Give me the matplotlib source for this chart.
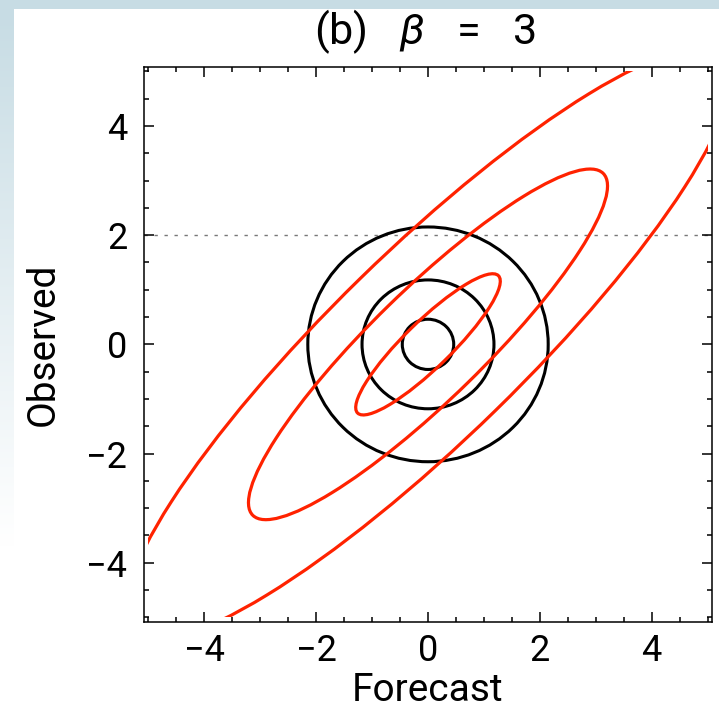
import numpy as np
import matplotlib.pyplot as plt
from matplotlib.patches import Circle, Ellipse, Rectangle
from matplotlib.ticker import MultipleLocator

# contour levels of the reference (uncorrelated) density: circle radii
circle_radii = [0.46, 1.18, 2.15]
# contour levels of the correlated density: ellipse semi-axes, tilted 45 deg
ellipse_semi_major = [1.78, 4.43, 7.47]
ellipse_semi_minor = [0.42, 1.00, 1.71]
ellipse_angle = 45.0
threshold = 2.0
data_box = [-5.0, 5.0]
axis_range = [-5.08, 5.08]
major_ticks = [-4, -2, 0, 2, 4]

plt.rcParams['font.family'] = ['Roboto', 'DejaVu Sans']
plt.rcParams['mathtext.fontset'] = 'custom'
plt.rcParams['mathtext.it'] = 'Roboto:italic'
plt.rcParams['mathtext.rm'] = 'Roboto'
plt.rcParams['axes.unicode_minus'] = True

fig = plt.figure(figsize=(7.19, 7.23), dpi=100)
fig.patch.set_facecolor('white')

# light blue frame of the slide: band on top, fading band on the left
fig.add_artist(Rectangle((0, 1 - 9 / 723), 1, 9 / 723, transform=fig.transFigure,
                         facecolor='#c7dce4', edgecolor='none', zorder=0))
bg = fig.add_axes([0, 0, 14 / 719, 1 - 9 / 723], zorder=-1)
grad = np.linspace(0, 1, 256)[:, None]
top_c = np.array([0xc7, 0xdc, 0xe4]) / 255
white = np.ones(3)
w = np.clip(grad / 0.75, 0, 1)
img = (1 - w) * top_c + w * white
bg.imshow(img[:, None, :].repeat(2, axis=1), aspect='auto', extent=[0, 1, 0, 1])
bg.set_axis_off()

ax = fig.add_axes([144 / 719, 1 - 621.7 / 723, 568 / 719, 554.7 / 723])

clip_box = Rectangle((data_box[0], data_box[0]), data_box[1] - data_box[0],
                     data_box[1] - data_box[0], transform=ax.transData,
                     facecolor='none', edgecolor='none')

for a, b in zip(ellipse_semi_major, ellipse_semi_minor):
    e = Ellipse((0, 0), 2 * a, 2 * b, angle=ellipse_angle, fill=False,
                edgecolor='#ff2200', linewidth=2.3, zorder=3)
    ax.add_patch(e)
    e.set_clip_path(clip_box)

for r in circle_radii:
    ax.add_patch(Circle((0, 0), r, fill=False, edgecolor='black',
                        linewidth=2.2, zorder=2))

ax.axhline(threshold, color='#777777', linewidth=1.0,
           linestyle=(0, (2.4, 4.8)), zorder=1)

ax.set_xlim(axis_range)
ax.set_ylim(axis_range)
ax.xaxis.set_minor_locator(MultipleLocator(0.5))
ax.yaxis.set_minor_locator(MultipleLocator(0.5))
ax.set_xticks(major_ticks)
ax.set_yticks(major_ticks)
ax.tick_params(which='both', direction='in', top=True, right=True,
               width=1.1, labelsize=26)
ax.tick_params(which='major', length=7.5)
ax.tick_params(which='minor', length=3.8)
ax.tick_params(axis='x', pad=8)
ax.tick_params(axis='y', pad=12)
for s in ax.spines.values():
    s.set_linewidth(1.1)

ax.set_xlabel('Forecast', fontsize=28, labelpad=2)
ax.set_ylabel('Observed', fontsize=28, labelpad=18)
fig.text(425 / 719, 1 - 32 / 723, r'(b)   $\beta$   =   3', fontsize=31,
         ha='center', va='center')

fig.savefig('out.png', dpi=100)
